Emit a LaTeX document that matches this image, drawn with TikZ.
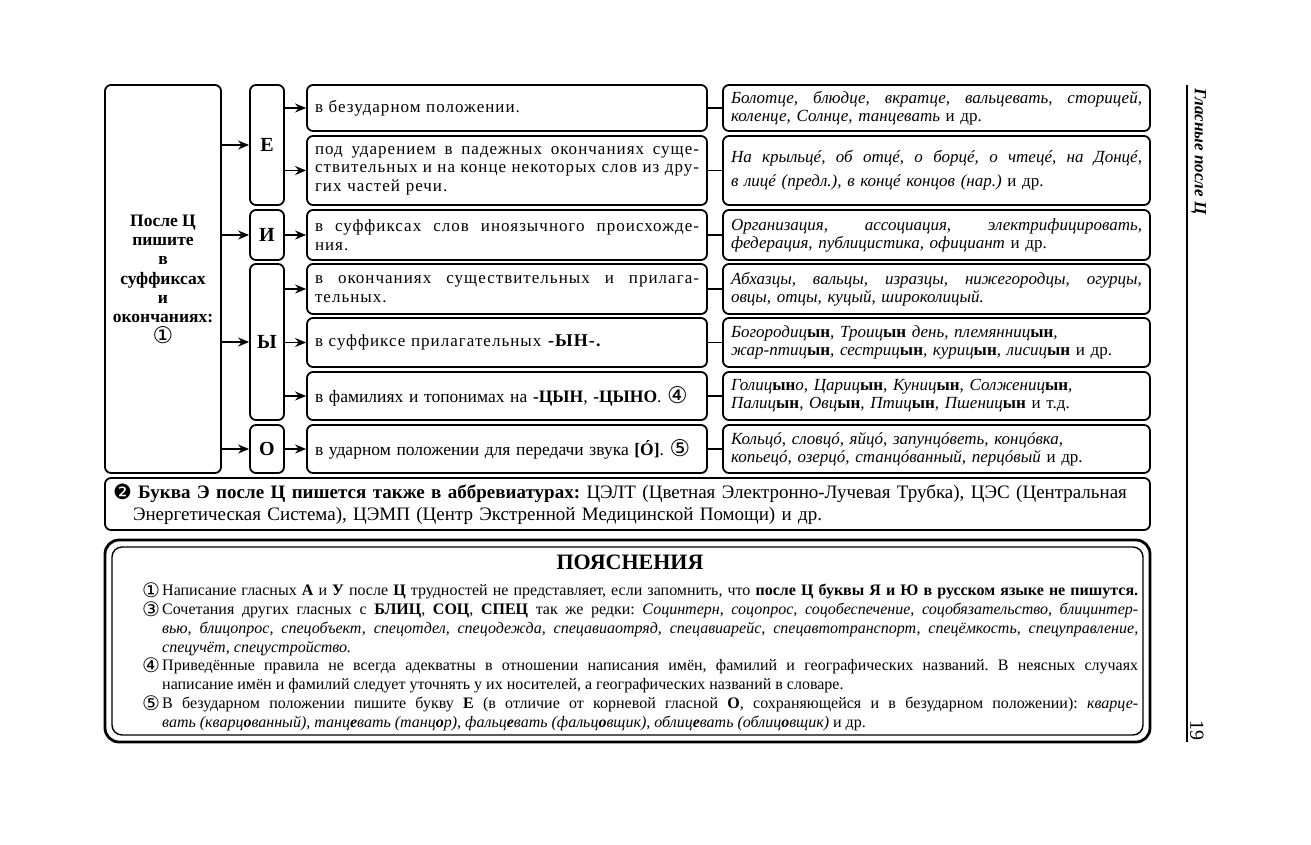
\documentclass[tikz,border=0pt]{standalone}
\usepackage{fontspec}
\usepackage{graphicx}
\setmainfont{Liberation Serif}
\newfontfamily\symf{DejaVu Sans}
\newfontfamily\spcf[LetterSpace=6]{Liberation Serif}
\usetikzlibrary{arrows.meta}
\frenchspacing
\newsavebox\fitbox
\newlength\fitw
\newcommand\fitline[2]{\setlength\fitw{#1pt}\sbox\fitbox{\spaceskip=0pt\xspaceskip=0pt\frenchspacing #2}\ifdim\wd\fitbox>\fitw\resizebox{\fitw}{\height}{\usebox\fitbox}\else\makebox[\fitw][s]{\spaceskip=0pt\xspaceskip=0pt\frenchspacing #2}\fi}
\newcommand\cd[1]{\raisebox{-1pt}{\symf\fontsize{23}{16}\selectfont #1}}
\newcommand\B[1]{\textbf{\upshape #1}}
\begin{document}
\begin{tikzpicture}[x=1pt,y=-1pt,
  box/.style={draw, line width=1.8pt, rounded corners=6pt},
  midbox/.style={box, minimum width=400pt, text width=384pt, inner xsep=8pt, inner ysep=0pt, align=left, font=\spcf\fontsize{17}{18.5}\selectfont},
  rbox/.style={box, minimum width=427pt, text width=411pt, inner xsep=8pt, inner ysep=0pt, align=left, font=\fontsize{17}{18}\selectfont\itshape},
  lbox/.style={box, minimum width=34pt, inner sep=0pt, font=\bfseries\fontsize{20}{20}\selectfont},
  arr/.style={line width=1.5pt, -{Stealth[length=11pt,width=9pt]}},
  conn/.style={line width=1.5pt},
  exl/.style={anchor=base west, inner sep=0pt, font=\fontsize{16}{19}\selectfont},
  circ/.style={anchor=base, inner sep=0pt, text height=14pt, text depth=0pt, font=\symf\fontsize{20}{20}\selectfont}]
\fill[white] (0,0) rectangle (1311,844);
\useasboundingbox (0,0) rectangle (1311,844);

% left box
\node[box, minimum width=116pt, minimum height=388pt, align=center, font=\bfseries\fontsize{17.5}{19.3}\selectfont] (L) at (163,279)
  {После Ц\\пишите\\в\\суффиксах\\и\\окончаниях:\\{\mdseries\cd{①}}};

% letter boxes
\node[lbox, minimum height=120pt] (E) at (267,145) {Е};
\node[lbox, minimum height=50pt] (I) at (267,235) {И};
\node[lbox, minimum height=156pt] (Y) at (267,342) {Ы};
\node[lbox, minimum height=48pt] (O) at (267,449) {О};

% middle boxes
\node[midbox, minimum height=46pt] (m1) at (507,108) {в безударном положении.};
\node[midbox, minimum height=69pt] (m2) at (507,170.5) {\fitline{384}{под ударением в падежных окончаниях суще-}\\\fitline{384}{ствительных и на конце некоторых слов из дру-}\\гих частей речи.};
\node[midbox, minimum height=50pt] (m3) at (507,235) {\fitline{384}{в суффиксах слов иноязычного происхожде-}\\ния.};
\node[midbox, minimum height=50pt] (m4) at (507,289) {\fitline{384}{в окончаниях существительных и прилага-}\\тельных.};
\node[midbox, minimum height=49pt] (m5) at (507,342.5) {в суффиксе прилагательных \textbf{\fontsize{18}{18}\selectfont -ЫН-.}};
\node[midbox, minimum height=48pt] (m6) at (507,396) {{\rmfamily\fontsize{17.5}{18.5}\selectfont в фамилиях и топонимах на \textbf{-ЦЫН}, \textbf{-ЦЫНО}.} \cd{④}};
\node[midbox, minimum height=48pt] (m7) at (507,449) {{\rmfamily\fontsize{17.5}{18.5}\selectfont в ударном положении для передачи звука \textbf{[Ó]}.} \cd{⑤}};

% right boxes
\node[rbox, minimum height=46pt] (r1) at (936.5,108) {\fitline{411}{Болотце, блюдце, вкратце, вальцевать, сторицей,}\\коленце, Солнце, танцевать \textup{и др.}};
\node[rbox, minimum height=69pt, font=\fontsize{17}{24}\selectfont\itshape] (r2) at (936.5,170.5) {\fitline{411}{На крыльцé, об отцé, о борцé, о чтецé, на Донцé,}\\в лицé (предл.), в концé концов (нар.) \textup{и др.}};
\node[rbox, minimum height=50pt] (r3) at (936.5,235) {\fitline{411}{Организация, ассоциация, электрифицировать,}\\федерация, публицистика, официант \textup{и др.}};
\node[rbox, minimum height=50pt] (r4) at (936.5,289) {\fitline{411}{Абхазцы, вальцы, изразцы, нижегородцы, огурцы,}\\овцы, отцы, куцый, широколицый.};
\node[rbox, minimum height=49pt] (r5) at (936.5,342.5) {Богородиц\B{ын}, Троиц\B{ын} день, племянниц\B{ын},\\жар-птиц\B{ын}, сестриц\B{ын}, куриц\B{ын}, лисиц\B{ын} \textup{и др.}};
\node[rbox, minimum height=48pt] (r6) at (936.5,396) {Голиц\B{ын}о, Цариц\B{ын}, Куниц\B{ын}, Солжениц\B{ын},\\Палиц\B{ын}, Овц\B{ын}, Птиц\B{ын}, Пшениц\B{ын} \textup{и т.д.}};
\node[rbox, minimum height=48pt] (r7) at (936.5,449) {Кольцó, словцó, яйцó, запунцóветь, концóвка,\\копьецó, озерцó, станцóванный, перцóвый \textup{и др.}};

% arrows from left box
\draw[arr] (L.east |- E.west) -- (E.west);
\draw[arr] (L.east |- I.west) -- (I.west);
\draw[arr] (L.east |- Y.west) -- (Y.west);
\draw[arr] (L.east |- O.west) -- (O.west);
% arrows from letter boxes
\draw[arr] (E.east |- m1.west) -- (m1.west);
\draw[arr] (E.east |- m2.west) -- (m2.west);
\draw[arr] (I.east |- m3.west) -- (m3.west);
\draw[arr] (Y.east |- m4.west) -- (m4.west);
\draw[arr] (Y.east |- m5.west) -- (m5.west);
\draw[arr] (Y.east |- m6.west) -- (m6.west);
\draw[arr] (O.east |- m7.west) -- (m7.west);
% connectors middle to right
\foreach \i in {1,...,7} {\draw[conn] (m\i.east) -- (r\i.west);}

% note 2 box
\node[box, minimum width=1045pt, minimum height=52pt, text width=1029pt, inner xsep=8pt, inner ysep=0pt, align=left, font=\fontsize{19}{22}\selectfont] (n2) at (627.5,504)
  {\fitline{1014}{\raisebox{-1pt}{\symf\fontsize{21}{18}\selectfont ❷} \textbf{Буква Э после Ц пишется также в аббревиатурах:} ЦЭЛТ (Цветная Электронно-Лучевая Трубка), ЦЭС (Центральная}\\\hspace*{20pt}Энергетическая Система), ЦЭМП (Центр Экстренной Медицинской Помощи) и др.};

% explanations
\node[draw, line width=2.8pt, rounded corners=14pt, minimum width=1045pt, minimum height=202pt] (xo) at (627.5,641) {};
\node[draw, line width=1.4pt, rounded corners=10pt, minimum width=1031pt, minimum height=188pt] (xi) at (627.5,641) {};
\node[font=\bfseries\fontsize{22}{22}\selectfont, inner sep=0pt] (title) at (630,562) {ПОЯСНЕНИЯ};

\node[circ] (c1) at (151,597) {①};
\node[circ] (c3) at (151,616) {③};
\node[circ] (c4) at (151,672) {④};
\node[circ] (c5) at (151,710) {⑤};

\node[exl] (e1) at (162,595) {\fitline{976}{Написание гласных \textbf{А} и \textbf{У} после \textbf{Ц} трудностей не представляет, если запомнить, что \textbf{после Ц буквы Я и Ю в русском языке не пишутся.}}};
\node[exl] (e2) at (162,614) {\fitline{976}{Сочетания других гласных с \textbf{БЛИЦ}, \textbf{СОЦ}, \textbf{СПЕЦ} так же редки: \textit{Социнтерн, соцопрос, соцобеспечение, соцобязательство, блицинтер-}}};
\node[exl] (e3) at (162,633) {\fitline{976}{\textit{вью, блицопрос, спецобъект, спецотдел, спецодежда, спецавиаотряд, спецавиарейс, спецавтотранспорт, спецёмкость, спецуправление,}}};
\node[exl] (e4) at (162,652) {\textit{спецучёт, спецустройство.}};
\node[exl] (e5) at (162,670) {\fitline{976}{Приведённые правила не всегда адекватны в отношении написания имён, фамилий и географических названий. В неясных случаях}};
\node[exl] (e6) at (162,689) {написание имён и фамилий следует уточнять у их носителей, а географических названий в словаре.};
\node[exl] (e7) at (162,708) {\fitline{976}{В безударном положении пишите букву \textbf{Е} (в отличие от корневой гласной \textbf{О}, сохраняющейся и в безударном положении): \textit{кварце-}}};
\node[exl] (e8) at (162,727) {\textit{вать (кварц\textbf{о}ванный), танц\textbf{е}вать (танц\textbf{о}р), фальц\textbf{е}вать (фальц\textbf{о}вщик), облиц\textbf{е}вать (облиц\textbf{о}вщик)} и др.};

% side rule and running head
\draw[line width=1.2pt] (1187,85) coordinate (ra) -- (1187,742) coordinate (rb);
\node[rotate=-90, anchor=south west, inner sep=0pt, font=\bfseries\itshape\fontsize{17}{17}\selectfont] (head) at (1191,88) {Гласные после Ц};
\node[rotate=-90, anchor=south east, inner sep=0pt, font=\fontsize{20}{20}\selectfont] (page) at (1190,741) {19};
\end{tikzpicture}
\end{document}
